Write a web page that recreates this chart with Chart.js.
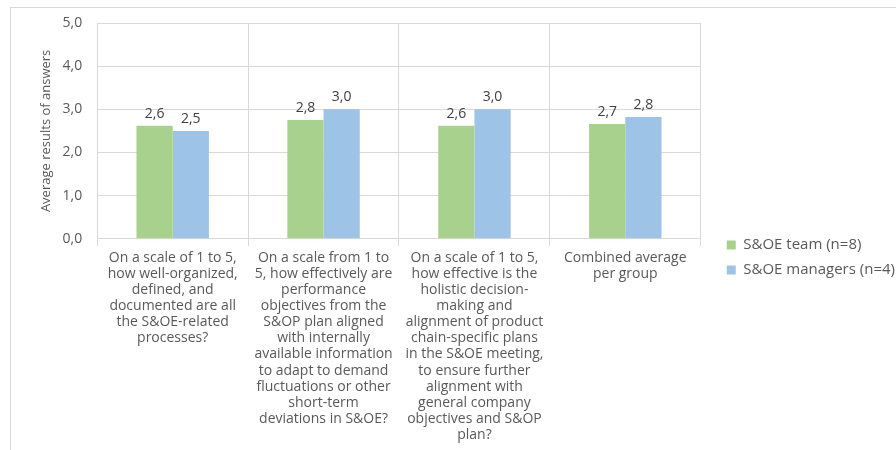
<!DOCTYPE html>
<html>
<head>
<meta charset="utf-8">
<script src="https://cdn.jsdelivr.net/npm/chart.js@4.4.0/dist/chart.umd.min.js"></script>
<style>
    html, body { margin: 0; padding: 0; background: #fff; overflow: hidden; }
    #frame {
        position: absolute; left: 10px; top: 7px;
        width: 886px; height: 443px;
        border-left: 1px solid #d9d9d9; border-top: 1px solid #d9d9d9;
    }
</style>
</head>
<body>
<div id="frame"><canvas id="myChart" width="885" height="442"></canvas></div>
<script>
const categories = [
    ['On a scale of 1 to 5,', 'how well-organized,', 'defined, and', 'documented are all', 'the S&OE-related', 'processes?'],
    ['On a scale from 1 to', '5, how effectively are', 'performance', 'objectives from the', 'S&OP plan aligned', 'with internally', 'available information', 'to adapt to demand', 'fluctuations or other', 'short-term', 'deviations in S&OE?'],
    ['On a scale of 1 to 5,', 'how effective is the', 'holistic decision-', 'making and', 'alignment of product', 'chain-specific plans', 'in the S&OE meeting,', 'to ensure further', 'alignment with', 'general company', 'objectives and S&OP', 'plan?'],
    ['Combined average', 'per group']
];
const teamValues = [2.62, 2.75, 2.62, 2.66];
const managerValues = [2.5, 3.0, 3.0, 2.82];
const seriesNames = ['S&OE team (n=8)', 'S&OE managers (n=4)'];
const yTicks = [0, 1, 2, 3, 4, 5];

const fmt = v => v.toFixed(1).replace('.', ',');

const valueLabels = {
    id: 'valueLabels',
    afterDatasetsDraw(chart) {
        const ctx = chart.ctx;
        ctx.save();
        ctx.font = '14px "Open Sans"';
        ctx.fillStyle = '#404040';
        ctx.textAlign = 'center';
        ctx.textBaseline = 'bottom';
        chart.data.datasets.forEach((ds, i) => {
            chart.getDatasetMeta(i).data.forEach((bar, j) => {
                ctx.fillText(fmt(ds.data[j]), bar.x, bar.y - 5);
            });
        });
        ctx.restore();
    }
};

// legend in the original sits lower and further from the plot than chart.js puts it
const legendShift = {
    id: 'legendShift',
    afterLayout(chart) {
        const lg = chart.legend;
        lg.top += 30;
        lg.bottom += 30;
        lg.left += 16;
        lg.right += 16;
    }
};

Chart.defaults.animation = false;
Chart.defaults.font.family = '"Open Sans", sans-serif';
Chart.defaults.color = '#595959';

new Chart(document.getElementById('myChart'), {
    type: 'bar',
    data: {
        labels: categories,
        datasets: [
            { label: seriesNames[0], data: teamValues, backgroundColor: '#a9d18e' },
            { label: seriesNames[1], data: managerValues, backgroundColor: '#9dc3e6' }
        ]
    },
    options: {
        responsive: false,
        categoryPercentage: 0.48,
        barPercentage: 1,
        layout: { padding: { top: 0, right: 7, bottom: 3, left: 22 } },
        plugins: {
            legend: {
                position: 'right',
                align: 'center',
                labels: {
                    boxWidth: 9, boxHeight: 9, padding: 10,
                    font: { size: 15 }, color: '#595959'
                }
            },
            tooltip: { enabled: false }
        },
        scales: {
            x: {
                grid: { color: '#d9d9d9', offset: true, tickLength: 7 },
                border: { color: '#d9d9d9' },
                ticks: {
                    maxRotation: 0, autoSkip: false, padding: 4,
                    font: { size: 14, lineHeight: 1.15 }, color: '#595959'
                }
            },
            y: {
                min: 0, max: 5,
                afterBuildTicks: ax => { ax.ticks = yTicks.map(v => ({ value: v })); },
                afterFit: ax => { ax.paddingTop = 15; },
                grid: { color: '#d9d9d9', drawTicks: false },
                border: { display: false },
                ticks: {
                    padding: 15, font: { size: 14 }, color: '#595959',
                    callback: v => fmt(v)
                },
                title: {
                    display: true, text: 'Average results of answers',
                    font: { size: 13 }, color: '#595959',
                    padding: { top: 5, bottom: -6 }
                }
            }
        }
    },
    plugins: [valueLabels, legendShift]
});
</script>
</body>
</html>
